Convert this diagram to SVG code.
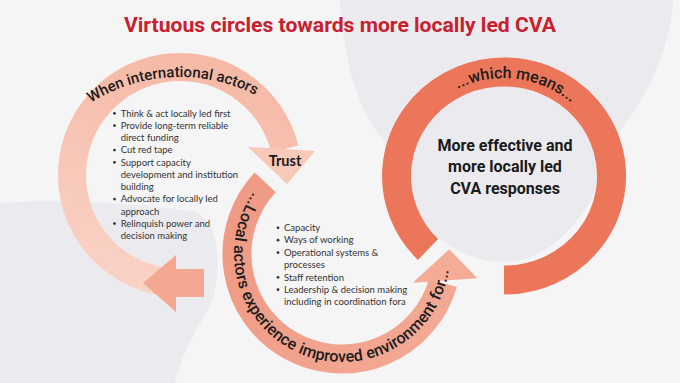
<svg xmlns="http://www.w3.org/2000/svg" width="680" height="383" viewBox="0 0 680 383">
<defs>
<style>
.title{font-family:Roboto,"Liberation Sans",sans-serif;font-weight:700;font-size:21px;fill:#c8202e}
.arc-text{font-family:Roboto,"Liberation Sans",sans-serif;font-weight:500;font-size:16px;fill:#1c1c1c}
.arc-left{font-size:15px}
.bul{font-family:Lato,"Liberation Sans",sans-serif;font-size:9.5px;fill:#333333}
.dot{fill:#333333}
.center{font-family:Roboto,"Liberation Sans",sans-serif;font-weight:700;font-size:16px;fill:#1a1a1a}
.trust{font-family:Lato,"Liberation Sans",sans-serif;font-weight:700;font-size:14.5px;fill:#1a1a1a}
</style>
<linearGradient id="gLeft" gradientUnits="userSpaceOnUse" x1="200" y1="60" x2="140" y2="295">
<stop offset="0" stop-color="#f6b9a6"/>
<stop offset="1" stop-color="#f9d3c7"/>
</linearGradient>
<linearGradient id="gMid" gradientUnits="userSpaceOnUse" x1="250" y1="180" x2="470" y2="300">
<stop offset="0" stop-color="#ef9a84"/>
<stop offset="1" stop-color="#f3aa95"/>
</linearGradient>
<path id="tpLeft" d="M13,244 A167,167 0 0 1 347,244"/>
<path id="tpMid" d="M288,160.5 A108,108 0 1 0 450,254"/>
<path id="tpRight" d="M402.5,176 A101.5,98 0 0 1 605.5,176"/>
</defs>

<rect x="0" y="0" width="680" height="383" fill="#f5f5f5"/>
<path d="M340,0 L673,0 C672,40 650,95 617,135 C600,200 560,262 504,262 C450,262 400,215 383,140 C365,118 345,80 340,0 Z" fill="#ebebef"/>
<path d="M0,203 C60,198 150,204 195,212 C225,222 222,290 205,315 C190,340 180,360 175,383 L0,383 Z" fill="#ebebef"/>

<text class="title" x="340" y="32" text-anchor="middle" textLength="432" lengthAdjust="spacingAndGlyphs">Virtuous circles towards more locally led CVA</text>

<g id="connectors">
<path id="arc-left" d="M183.8,282.9 A108,108 0 1 1 284.8,148.9" fill="none" stroke="url(#gLeft)" stroke-width="28"/>
<polygon id="arrow-left" points="143,283 176,255 176,269 204,269 204,297 176,297 176,312" fill="#f4a892"/>
<polygon id="arrow-trust" points="248,147 315,151 287,184" fill="#f8c8b9"/>
<path id="arc-mid" d="M265.2,182.4 A105,105 0 1 0 442.9,282.9" fill="none" stroke="url(#gMid)" stroke-width="29"/>
<polygon id="arrow-mid" points="412.7,282.7 449.3,249.3 477.3,278.3" fill="#f4ac97"/>
<path id="ring-right" d="M428,249.5 A107.5,104 0 1 1 504,280" fill="none" stroke="#ec7659" stroke-width="29"/>
</g>

<g id="node-international">
<text class="arc-text arc-left"><textPath href="#tpLeft" startOffset="254.3" text-anchor="middle">When international actors</textPath></text>
<circle class="dot" cx="114.5" cy="113.3" r="1.4"/><text class="bul" x="120.7" y="116.5">Think &amp; act locally led first</text>
<circle class="dot" cx="114.5" cy="125.55" r="1.4"/><text class="bul" x="120.7" y="128.75">Provide long-term reliable</text>
<text class="bul" x="120.7" y="141">direct funding</text>
<circle class="dot" cx="114.5" cy="150.05" r="1.4"/><text class="bul" x="120.7" y="153.25">Cut red tape</text>
<circle class="dot" cx="114.5" cy="162.3" r="1.4"/><text class="bul" x="120.7" y="165.5">Support capacity</text>
<text class="bul" x="120.7" y="177.75">development and institution</text>
<text class="bul" x="120.7" y="190">building</text>
<circle class="dot" cx="114.5" cy="199.05" r="1.4"/><text class="bul" x="120.7" y="202.25">Advocate for locally led</text>
<text class="bul" x="120.7" y="214.5">approach</text>
<circle class="dot" cx="114.5" cy="223.55" r="1.4"/><text class="bul" x="120.7" y="226.75">Relinquish power and</text>
<text class="bul" x="120.7" y="239">decision making</text>
</g>

<g id="node-trust">
<text class="trust" x="285" y="166" text-anchor="middle">Trust</text>
</g>

<g id="node-local">
<text class="arc-text"><textPath href="#tpMid" startOffset="73.55" text-anchor="middle">...Local</textPath></text>
<text class="arc-text"><textPath href="#tpMid" startOffset="126.55" text-anchor="middle">actors</textPath></text>
<text class="arc-text"><textPath href="#tpMid" startOffset="173.55" text-anchor="middle">exper</textPath></text>
<text class="arc-text"><textPath href="#tpMid" startOffset="213" text-anchor="middle">ience</textPath></text>
<text class="arc-text"><textPath href="#tpMid" startOffset="270.35" text-anchor="middle">improved</textPath></text>
<text class="arc-text"><textPath href="#tpMid" startOffset="334.85" text-anchor="middle">environ</textPath></text>
<text class="arc-text"><textPath href="#tpMid" startOffset="380.05" text-anchor="middle">ment</textPath></text>
<text class="arc-text"><textPath href="#tpMid" startOffset="419.35" text-anchor="middle">for...</textPath></text>
<circle class="dot" cx="278" cy="227.8" r="1.4"/><text class="bul" x="284" y="231">Capacity</text>
<circle class="dot" cx="278" cy="240.2" r="1.4"/><text class="bul" x="284" y="243.4">Ways of working</text>
<circle class="dot" cx="278" cy="252.6" r="1.4"/><text class="bul" x="284" y="255.8">Operational systems &amp;</text>
<text class="bul" x="284" y="268.1">processes</text>
<circle class="dot" cx="278" cy="277.3" r="1.4"/><text class="bul" x="284" y="280.5">Staff retention</text>
<circle class="dot" cx="278" cy="289.7" r="1.4"/><text class="bul" x="284" y="292.9">Leadership &amp; decision making</text>
<text class="bul" x="284" y="305.3">including in coordination fora</text>
</g>

<g id="node-outcome">
<text class="arc-text"><textPath href="#tpRight" startOffset="54%" text-anchor="middle">...which means...</textPath></text>
<text class="center" x="505" y="150.5" text-anchor="middle">More effective and</text>
<text class="center" x="505" y="172" text-anchor="middle">more locally led</text>
<text class="center" x="505" y="193.5" text-anchor="middle">CVA responses</text>
</g>
</svg>
